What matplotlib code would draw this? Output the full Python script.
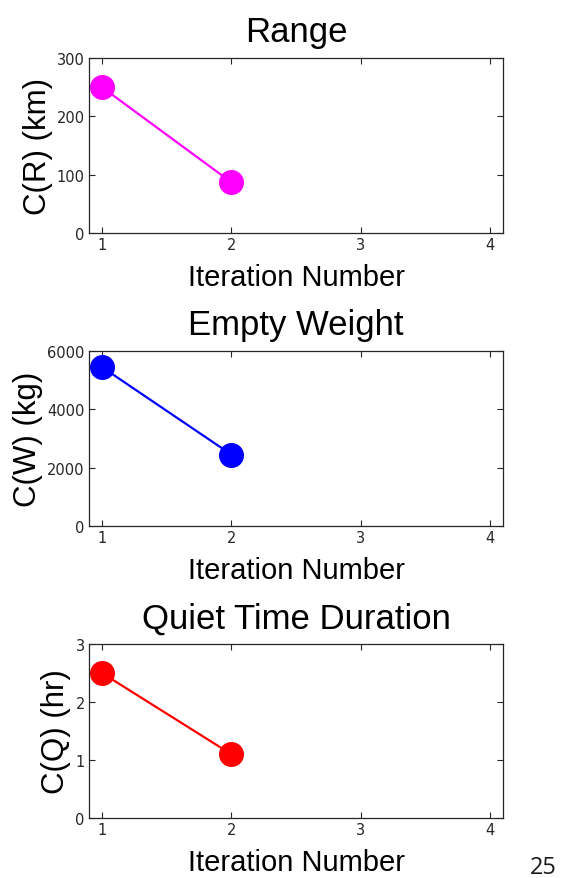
import matplotlib
matplotlib.use("Agg")
import matplotlib.pyplot as plt
from matplotlib import font_manager

iterations = [1, 2]
range_km = [250, 87]
empty_weight_kg = [5450, 2450]
quiet_time_hr = [2.5, 1.1]

titles = ["Range", "Empty Weight", "Quiet Time Duration"]
ylabels = ["C(R) (km)", "C(W) (kg)", "C(Q) (hr)"]
series = [range_km, empty_weight_kg, quiet_time_hr]
colors = ["#FF00FF", "#0000FF", "#FF0000"]
ylims = [(0, 300), (0, 6000), (0, 3)]
yticks = [[0, 100, 200, 300], [0, 2000, 4000, 6000], [0, 1, 2, 3]]
xticks = [1, 2, 3, 4]

installed = {f.name for f in font_manager.fontManager.ttflist}
tick_family = "Liberation Sans Narrow" if "Liberation Sans Narrow" in installed else "DejaVu Sans"
main_family = "Liberation Sans"

W, H = 568, 879
fig = plt.figure(figsize=(W / 100, H / 100), dpi=100)

# panel boxes in pixels: (left, top, right, bottom)
boxes = [(89, 59, 503, 234), (89, 352, 503, 527), (89, 645, 503, 819)]

for box, title, ylab, vals, col, yl, yt in zip(boxes, titles, ylabels, series, colors, ylims, yticks):
    l, t, r, b = box
    ax = fig.add_axes([l / W, 1 - b / H, (r - l) / W, (b - t) / H])
    ax.plot(iterations, vals, "-o", color=col, lw=1.6, ms=17, mec=col, mfc=col)
    ax.set_xlim(0.9, 4.1)
    ax.set_ylim(*yl)
    ax.set_xticks(xticks)
    ax.set_yticks(yt)
    ax.tick_params(direction="in", length=4, width=0.8, top=True, right=True,
                   labelsize=10.5, colors="#262626", pad=3)
    for lab in ax.get_xticklabels() + ax.get_yticklabels():
        lab.set_family(tick_family)
        lab.set_color("#262626")
    for s in ax.spines.values():
        s.set_color("#262626")
        s.set_linewidth(0.9)
    ax.set_title(title, fontsize=25, family=main_family, pad=12)
    ax.set_xlabel("Iteration Number", fontsize=21, family=main_family, labelpad=8)
    ax.set_ylabel(ylab, fontsize=22.5, family=main_family, labelpad=3)

fig.text(543 / W, 1 - 868 / H, "25", fontsize=17, family="Open Sans",
         ha="center", va="center", color="#1a1a1a")

fig.savefig("out.png", dpi=100)
